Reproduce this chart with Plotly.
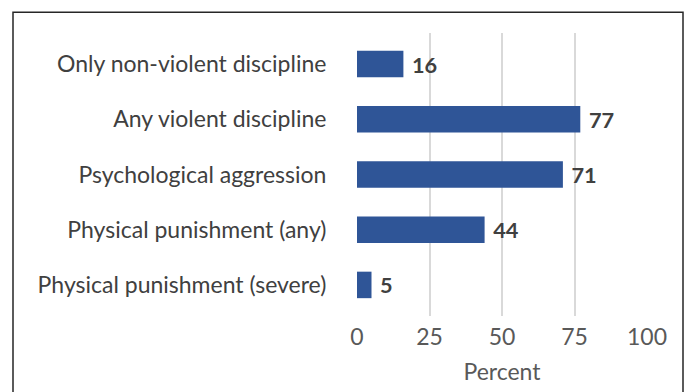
import plotly.graph_objects as go

# Discipline categories (top to bottom) and their percentages
categories = [
    "Only non-violent discipline",
    "Any violent discipline",
    "Psychological aggression",
    "Physical punishment (any)",
    "Physical punishment (severe)",
]
percent = [16, 77, 71, 44, 5]
x_ticks = [0, 25, 50, 75, 100]

BAR_COLOR = "#2F5597"
FONT = "Lato"
SIZE = 23

fig = go.Figure(
    go.Bar(
        x=percent,
        y=categories,
        orientation="h",
        width=0.48,
        marker=dict(color=BAR_COLOR, line=dict(width=0)),
        text=[f"\u00a0<b>{v}</b>" for v in percent],
        textposition="outside",
        textfont=dict(family=FONT, size=SIZE, color="#404040"),
        cliponaxis=False,
    )
)

fig.update_layout(
    width=688,
    height=392,
    margin=dict(l=357, r=41, t=33, b=74),
    paper_bgcolor="white",
    plot_bgcolor="white",
    showlegend=False,
    xaxis=dict(
        range=[0, 100],
        tickvals=x_ticks,
        ticktext=[str(t) for t in x_ticks],
        showgrid=True,
        gridcolor="#D9D9D9",
        gridwidth=2,
        zeroline=False,
        showline=False,
        ticks="",
        ticklabelstandoff=5,
        tickfont=dict(family=FONT, size=SIZE, color="#595959"),
        title=dict(text="Percent", font=dict(family=FONT, size=SIZE, color="#595959"), standoff=14),
    ),
    yaxis=dict(
        categoryorder="array",
        categoryarray=categories,
        range=[4.563, -0.563],
        showgrid=False,
        zeroline=False,
        showline=False,
        ticks="outside",
        ticklen=25,
        tickcolor="rgba(0,0,0,0)",
        tickfont=dict(family=FONT, size=SIZE, color="#404040"),
    ),
    shapes=[
        # outer frame around the chart
        dict(
            type="rect",
            xref="paper",
            yref="paper",
            x0=(13 - 357) / 290,
            x1=(683 - 357) / 290,
            y0=(318 - 420) / 285,
            y1=(318 - 12) / 285,
            line=dict(color="#262626", width=1.5),
            fillcolor="rgba(0,0,0,0)",
            layer="below",
        )
    ],
)

fig.write_html("out.html")
